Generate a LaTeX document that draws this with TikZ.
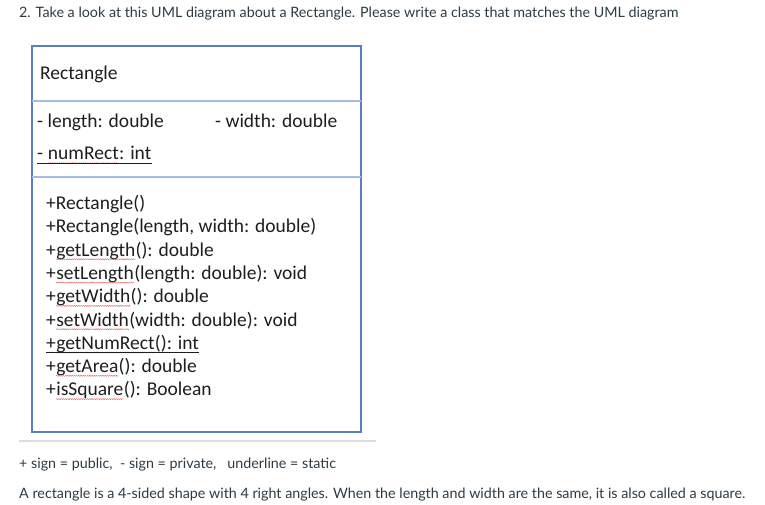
\documentclass[tikz,border=0pt]{standalone}
\usepackage{fontspec}
\setmainfont{Lato}
\newfontfamily\umlfont{Carlito}
\usetikzlibrary{decorations.pathmorphing}
\definecolor{pagetext}{HTML}{2D3B45}
\definecolor{umltext}{HTML}{1E1E1E}
\definecolor{boxblue}{HTML}{5B7EC2}
\definecolor{divblue}{HTML}{A4BCE4}
\definecolor{rulegray}{HTML}{DDDDDD}
\definecolor{spellred}{HTML}{E07070}
\tikzset{
  pagetxt/.style={anchor=base west, inner sep=0pt, text=pagetext, font=\fontsize{14.3}{17}\selectfont},
  umltxt/.style={anchor=base west, inner sep=0pt, text=umltext, font=\umlfont\fontsize{19.5}{22}\selectfont},
  umlbox/.style={draw=boxblue, line width=1.3pt},
  divider/.style={draw=divblue, line width=1.2pt},
  spell/.style={draw=spellred, line width=0.45pt, decorate, decoration={snake, amplitude=0.55pt, segment length=2.2pt}},
  statline/.style={draw=umltext, line width=1pt}
}
\begin{document}
\begin{tikzpicture}[x=1pt, y=-1pt]
\useasboundingbox[fill=white] (0,0) rectangle (765,505);
\node[pagetxt] (q) at (19,18) {2. Take a look at this UML diagram about a Rectangle. Please write a class that matches the UML diagram};
% box
\coordinate (tl) at (32,46);
\coordinate (br) at (361,432);
\path[umlbox] (tl) rectangle (br);
\coordinate (d1l) at (32,101); \coordinate (d1r) at (361,101);
\coordinate (d2l) at (32,177); \coordinate (d2r) at (361,177);
\path[divider] (d1l) -- (d1r);
\path[divider] (d2l) -- (d2r);
\node[umltxt] (name) at (40,80) {Rectangle};
% attributes
\node[umltxt] (a1) at (37,128) {- length: double};
\node[umltxt] (a2) at (215,128) {- width: double};
\node[umltxt] (a3p) at (37,160) {\mbox{-\ }};
\node[umltxt] (a3n) at (a3p.base east) {numRect};
\node[umltxt] (a3r) at (a3n.base east) {: int};
% methods
\node[umltxt] (m1) at (46,209.5) {+Rectangle()};
\node[umltxt] (m2) at (46,232.8) {+Rectangle(length, width: double)};
\node[umltxt] (m3p) at (46,256.1) {+};
\node[umltxt] (m3n) at (m3p.base east) {getLength};
\node[umltxt] (m3r) at (m3n.base east) {(): double};
\node[umltxt] (m4p) at (46,279.4) {+};
\node[umltxt] (m4n) at (m4p.base east) {setLength};
\node[umltxt] (m4r) at (m4n.base east) {(length: double): void};
\node[umltxt] (m5p) at (46,302.7) {+};
\node[umltxt] (m5n) at (m5p.base east) {getWidth};
\node[umltxt] (m5r) at (m5n.base east) {(): double};
\node[umltxt] (m6p) at (46,326) {+};
\node[umltxt] (m6n) at (m6p.base east) {setWidth};
\node[umltxt] (m6r) at (m6n.base east) {(width: double): void};
\node[umltxt] (m7p) at (46,349.3) {+};
\node[umltxt] (m7n) at (m7p.base east) {getNumRect};
\node[umltxt] (m7r) at (m7n.base east) {(): int};
\node[umltxt] (m8p) at (46,372.6) {+};
\node[umltxt] (m8n) at (m8p.base east) {getArea};
\node[umltxt] (m8r) at (m8n.base east) {(): double};
\node[umltxt] (m9p) at (46,395.9) {+};
\node[umltxt] (m9n) at (m9p.base east) {isSquare};
\node[umltxt] (m9r) at (m9n.base east) {(): Boolean};
% spell-check squiggles
\foreach \n in {a3n,m3n,m4n,m5n,m6n,m7n,m8n,m9n}
  \path[spell] ([yshift=-3.2pt]\n.base west) -- ([yshift=-3.2pt]\n.base east);
% static underlines
\path[statline] ([yshift=-3.6pt]a3p.base west) -- ([yshift=-3.6pt]a3r.base east);
\path[statline] ([yshift=-3.6pt]m7p.base west) -- ([yshift=-3.6pt]m7r.base east);
% rule and footer
\coordinate (r1) at (19,441); \coordinate (r2) at (376,441);
\draw[rulegray, line width=1.5pt] (r1) -- (r2);
\node[pagetxt] (f1) at (19,468) {+ sign = public,~ - sign = private,~~ underline = static};
\node[pagetxt] (f2) at (19,498) {A rectangle is a 4-sided shape with 4 right angles. When the length and width are the same, it is also called a square.};
\end{tikzpicture}
\end{document}
